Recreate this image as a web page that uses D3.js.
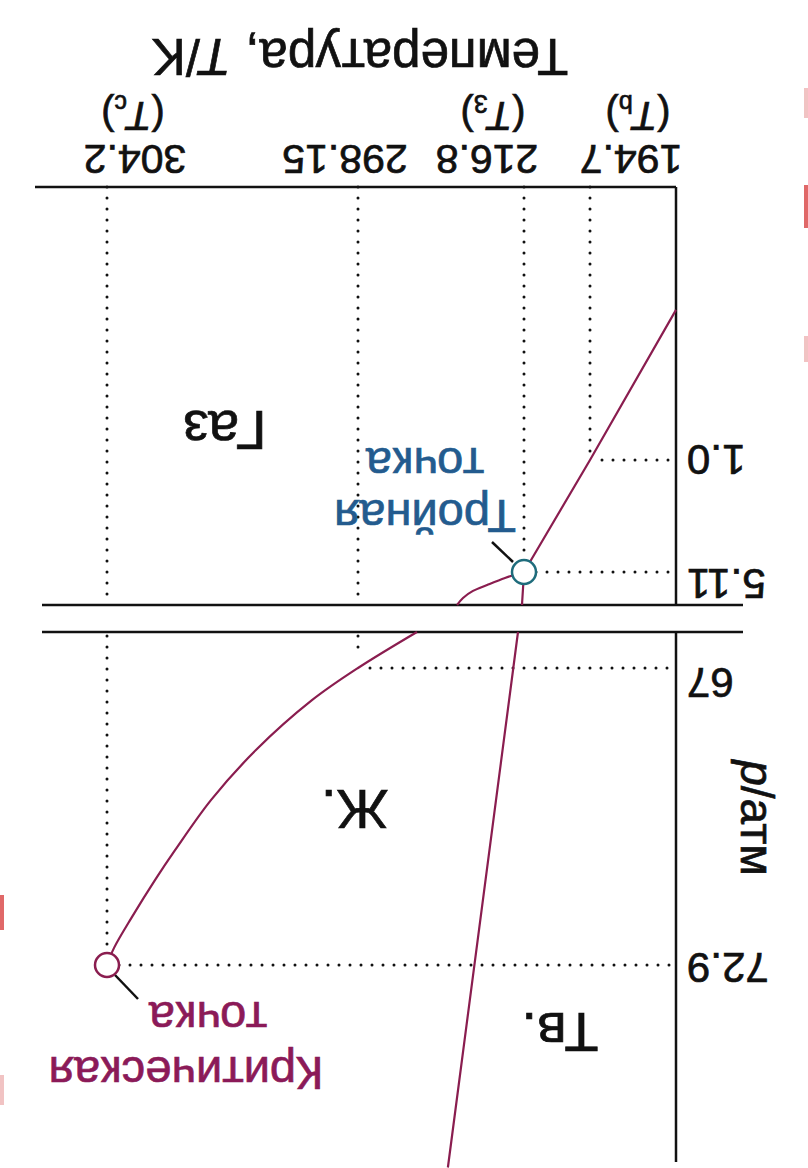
<!DOCTYPE html>
<html>
<head>
<meta charset="utf-8">
<script src="https://cdn.jsdelivr.net/npm/d3@7"></script>
<style>
  html, body { margin: 0; padding: 0; background: #fff; }
  svg { display: block; font-family: "Liberation Sans", Arial, sans-serif; }
  svg text { stroke-width: 0.7; }
</style>
</head>
<body>
<div id="chart"></div>
<script>
// temperature axis (K)
const tempTicks = [194.7, 216.8, 298.15, 304.2];
const tempTickLabels = ["194.7", "216.8", "298.15", "304.2"];
const tempSymbols = ["b", "3", null, "c"];
// pressure axis (atm), broken between 6 and 60
const pressureTicks = [1.0, 5.11, 67, 72.9];
const pressureTickLabels = ["1.0", "5.11", "67", "72.9"];
const pressureBreak = [6, 60];

// phase boundaries as [T, p]
const sublimationCurve = [[185, 0.45], [194.7, 1.0], [216.8, 5.11]];
const meltingLower = [[216.8, 5.11], [217.78, 6.0]];
const meltingUpper = [[219.74, 60], [222.04, 67], [254.1, 76.95]];
const vaporLower = [[216.8, 5.11], [226.1, 5.27], [234.9, 5.46], [241.8, 5.62], [246.7, 5.81], [249.6, 6.0]];
const vaporUpper = [[269.25, 60], [298.15, 67], [299.26, 67.64], [300.61, 68.63], [301.69, 69.62], [302.56, 70.62], [303.04, 71.21], [303.6, 71.95], [304.03, 72.56], [304.2, 72.9]];

const triplePoint = [216.8, 5.11];
const criticalPoint = [304.2, 72.9];
const referencePoints = [[194.7, 1.0], [216.8, 5.11], [298.15, 67], [304.2, 72.9]];

const regionLabels = [
  { text: "Газ", T: 301.36, p: 0.82 },
  { text: "Ж.", T: 298.23, p: 69.42 },
  { text: "Тв.", T: 204.75, p: 73.85 },
];

class PhaseDiagram {
  constructor({ element, width = 808, height = 1168 } = {}) {
    this.width = width;
    this.height = height;
    this.svg = d3.select(element).append("svg")
      .attr("width", width).attr("height", height)
      .attr("viewBox", `0 0 ${width} ${height}`);

    // the whole figure is shown upside down
    this.canvas = this.svg.append("g")
      .attr("transform", `rotate(180, ${width / 2}, ${height / 2})`);

    // schematic (not to scale) piecewise axes
    this.x = d3.scaleLinear()
      .domain([185, 194.7, 216.8, 298.15, 304.2, 306])
      .range([132, 218, 284, 450, 701, 773]);
    this.y = d3.scaleLinear()
      .domain([0, 1.0, 5.11, pressureBreak[0], pressureBreak[1], 67, 72.9, 76.8])
      .range([981, 708, 596, 563, 536, 500, 203, 8]);

    this.curveColor = "#8a1d4f";
    this.tripleColor = "#1f6c7c";
    this.tripleText = "#235b8e";
    this.criticalText = "#8b1a58";
  }

  render() {
    const { x, y, canvas } = this;
    const x0 = x.domain()[0];

    // dotted guides from each special point to both axes
    const guides = canvas.append("g")
      .attr("fill", "none")
      .attr("stroke", "#111")
      .attr("stroke-width", 3)
      .attr("stroke-linecap", "round")
      .attr("stroke-dasharray", "0 11");
    referencePoints.forEach(([T, p]) => {
      guides.append("line")
        .attr("x1", x(T) - 12).attr("x2", x(x0))
        .attr("y1", y(p)).attr("y2", y(p));
      guides.append("line")
        .attr("x1", x(T)).attr("x2", x(T))
        .attr("y1", y(0)).attr("y2", y(Math.min(p, pressureBreak[0])) + 4);
      if (p > pressureBreak[1]) {
        guides.append("line")
          .attr("x1", x(T)).attr("x2", x(T))
          .attr("y1", y(pressureBreak[1]) - 4).attr("y2", y(p) + 12);
      }
    });

    // axes
    const axes = canvas.append("g").attr("stroke", "#111").attr("stroke-width", 2.5);
    axes.append("line")
      .attr("x1", x.range()[0]).attr("x2", x.range()[x.range().length - 1])
      .attr("y1", y(0)).attr("y2", y(0));
    axes.append("line")
      .attr("x1", x(x0)).attr("x2", x(x0))
      .attr("y1", y(0)).attr("y2", y(pressureBreak[0]));
    axes.append("line")
      .attr("x1", x(x0)).attr("x2", x(x0))
      .attr("y1", y(pressureBreak[1])).attr("y2", 6);
    pressureBreak.forEach((p) => {
      axes.append("line")
        .attr("x1", 65).attr("x2", 766)
        .attr("y1", y(p)).attr("y2", y(p));
    });

    // phase boundaries
    const line = d3.line().x((d) => x(d[0])).y((d) => y(d[1]));
    const smooth = d3.line().x((d) => x(d[0])).y((d) => y(d[1]))
      .curve(d3.curveCatmullRom.alpha(0.5));
    const curves = canvas.append("g")
      .attr("fill", "none")
      .attr("stroke", this.curveColor)
      .attr("stroke-width", 2.2);
    curves.append("path").attr("d", line(sublimationCurve));
    curves.append("path").attr("d", line(meltingLower));
    curves.append("path").attr("d", line(meltingUpper));
    curves.append("path").attr("d", smooth(vaporLower));
    curves.append("path").attr("d", smooth(vaporUpper));

    // leader lines + points
    const [tx, ty] = [x(triplePoint[0]), y(triplePoint[1])];
    const [cx, cy] = [x(criticalPoint[0]), y(criticalPoint[1])];
    canvas.append("line")
      .attr("x1", tx + 11).attr("y1", ty + 10)
      .attr("x2", tx + 32).attr("y2", ty + 30)
      .attr("stroke", "#111").attr("stroke-width", 2.5);
    canvas.append("line")
      .attr("x1", cx - 8).attr("y1", cy - 10)
      .attr("x2", cx - 31).attr("y2", cy - 34)
      .attr("stroke", "#111").attr("stroke-width", 2.5);

    canvas.append("circle")
      .attr("cx", tx).attr("cy", ty).attr("r", 12)
      .attr("fill", "#fff").attr("stroke", this.tripleColor).attr("stroke-width", 2.5);
    canvas.append("circle")
      .attr("cx", cx).attr("cy", cy).attr("r", 12)
      .attr("fill", "#fff").attr("stroke", this.curveColor).attr("stroke-width", 2.5);

    // temperature tick labels
    const tempShift = [-41, 37, 13, -28];
    const symbolShift = [-48, 31, 0, -26];
    const tLabels = canvas.append("g").attr("fill", "#111").attr("stroke", "#111")
      .attr("text-anchor", "middle");
    tempTicks.forEach((T, i) => {
      tLabels.append("text")
        .attr("x", x(T) + tempShift[i]).attr("y", y(0) + 42)
        .attr("font-size", 41)
        .text(tempTickLabels[i]);
      if (tempSymbols[i]) {
        const s = tLabels.append("text")
          .attr("x", x(T) + symbolShift[i]).attr("y", y(0) + 85)
          .attr("font-size", 40);
        s.append("tspan").text("(");
        s.append("tspan").attr("font-style", "italic").text("T");
        s.append("tspan").attr("font-size", 25).attr("dy", 7).text(tempSymbols[i]);
        s.append("tspan").attr("dy", -7).text(")");
      }
    });

    // pressure tick labels
    const pressShift = [0, -12, -15, -3];
    const pLabels = canvas.append("g").attr("fill", "#111").attr("stroke", "#111")
      .attr("text-anchor", "end");
    pressureTicks.forEach((p, i) => {
      pLabels.append("text")
        .attr("x", x(x0) - 11).attr("y", y(p) + pressShift[i])
        .attr("dy", "0.36em")
        .attr("font-size", 42)
        .text(pressureTickLabels[i]);
    });

    // axis titles
    const title = canvas.append("text")
      .attr("x", 448).attr("y", 1129)
      .attr("text-anchor", "middle").attr("font-size", 51)
      .attr("fill", "#111").attr("stroke", "#111");
    title.append("tspan").text("Температура, ");
    title.append("tspan").attr("font-style", "italic").text("T");
    title.append("tspan").text("/K");

    const yTitle = canvas.append("text")
      .attr("transform", "translate(53, 350) rotate(-90)")
      .attr("text-anchor", "middle").attr("dy", "0.3em")
      .attr("font-size", 46).attr("fill", "#111").attr("stroke", "#111");
    yTitle.append("tspan").attr("font-style", "italic").text("p");
    yTitle.append("tspan").text("/атм");

    // phase regions
    canvas.append("g").attr("fill", "#111").attr("stroke", "#111")
      .attr("text-anchor", "middle")
      .attr("font-size", 56)
      .selectAll("text").data(regionLabels).join("text")
      .attr("x", (d) => x(d.T)).attr("y", (d) => y(d.p))
      .text((d) => d.text);

    // point annotations
    const tri = canvas.append("g").attr("fill", this.tripleText).attr("stroke", this.tripleText)
      .attr("text-anchor", "middle").attr("font-size", 47);
    tri.append("text").attr("x", tx + 99).attr("y", ty + 72).text("Тройная");
    tri.append("text").attr("x", tx + 99).attr("y", ty + 124).text("точка");

    const crit = canvas.append("g").attr("fill", this.criticalText).attr("stroke", this.criticalText)
      .attr("text-anchor", "middle").attr("font-size", 47);
    crit.append("text").attr("x", cx - 101).attr("y", cy - 37).text("точка");
    crit.append("text").attr("x", cx - 79).attr("y", cy - 92).text("Критическая");
  }
}

const chart = new PhaseDiagram({ element: "#chart" });
chart.render();

// faint cut-off marks along the picture edges
const edgeMarks = [
  { x: 804, y: 88, h: 30, c: "#f1c3c3" },
  { x: 804, y: 185, h: 43, c: "#e06868" },
  { x: 804, y: 336, h: 26, c: "#f1c3c3" },
  { x: 0, y: 895, h: 35, c: "#e06868" },
  { x: 0, y: 1075, h: 30, c: "#f1c3c3" },
];
chart.svg.append("g").selectAll("rect").data(edgeMarks).join("rect")
  .attr("x", (d) => d.x).attr("y", (d) => d.y)
  .attr("width", 4).attr("height", (d) => d.h)
  .attr("fill", (d) => d.c);
</script>
</body>
</html>
